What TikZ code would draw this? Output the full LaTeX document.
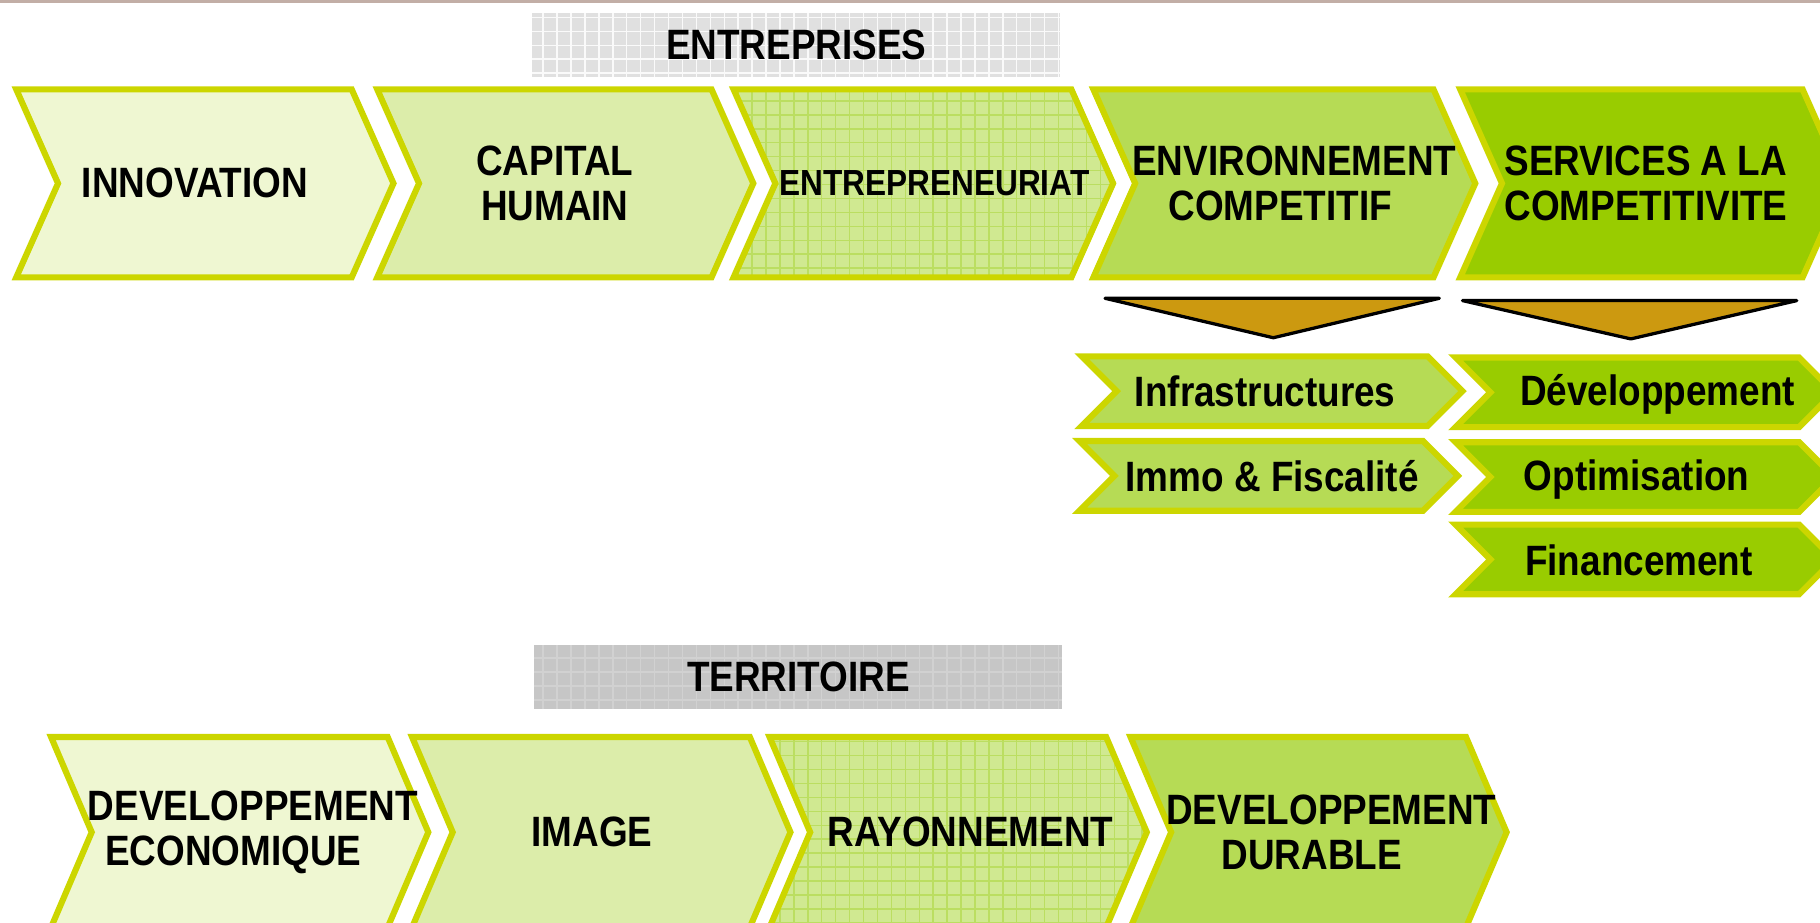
\documentclass[tikz,border=0pt]{standalone}
\usepackage{fontspec}
\setmainfont{Liberation Sans}[FakeStretch=0.87]

\definecolor{rim}{HTML}{CCD600}
\definecolor{pale}{HTML}{EFF7D2}
\definecolor{soft}{HTML}{DCEDAA}
\definecolor{mid}{HTML}{D0E991}
\definecolor{deep}{HTML}{B6DB55}
\definecolor{full}{HTML}{99CC00}
\definecolor{arrowgold}{HTML}{CC9910}
\definecolor{headgray}{HTML}{E0E0E0}
\definecolor{darkgray}{HTML}{C6C6C6}
\definecolor{topline}{HTML}{C2AEA6}

\begin{document}
\begin{tikzpicture}[
    chev/.style={draw=rim, line width=1.5pt, line join=miter},
    texgrid/.style={path picture={\draw[#1, line width=0.35pt] (path picture bounding box.south west) grid[step=0.12] (path picture bounding box.north east);}},
    lab/.style={font=\bfseries\fontsize{10.4}{10.9}\selectfont, align=center, inner sep=0pt},
    smalllab/.style={font=\bfseries\fontsize{8.9}{9.4}\selectfont, inner sep=0pt},
    head/.style={font=\bfseries\fontsize{10.4}{10.9}\selectfont, inner sep=0pt},
    drop/.style={fill=arrowgold, draw=black, line width=0.8pt, line join=round}
  ]
    \path[use as bounding box] (0,0) rectangle (15.68,7.95);
    \clip (0,0) rectangle (15.68,7.95);

    \fill [topline] (0,7.92) rectangle (15.68,7.95);

    % headers
    \fill [headgray, texgrid=white!85!headgray] (4.58,7.29) rectangle (9.13,7.84);
    \node (entreprises-label) at (6.86,7.565) [head] {ENTREPRISES};

    \fill [darkgray, texgrid=darkgray!80!white] (4.60,1.84) rectangle (9.15,2.39);
    \node (territoire-label) at (6.88,2.115) [head] {TERRITOIRE};

    % top row
    \filldraw [chev, fill=pale] (0.14,7.18) -- (3.03,7.18) -- (3.39,6.37) -- (3.03,5.56) -- (0.14,5.56) -- (0.50,6.37) -- cycle;
    \filldraw [chev, fill=soft] (3.25,7.18) -- (6.13,7.18) -- (6.49,6.37) -- (6.13,5.56) -- (3.25,5.56) -- (3.61,6.37) -- cycle;
    \filldraw [chev, fill=mid, texgrid=deep!80!mid] (6.32,7.18) -- (9.23,7.18) -- (9.59,6.37) -- (9.23,5.56) -- (6.32,5.56) -- (6.68,6.37) -- cycle;
    \filldraw [chev, fill=deep] (9.42,7.18) -- (12.35,7.18) -- (12.71,6.37) -- (12.35,5.56) -- (9.42,5.56) -- (9.78,6.37) -- cycle;
    \filldraw [chev, fill=full] (12.58,7.18) -- (15.53,7.18) -- (15.89,6.37) -- (15.53,5.56) -- (12.58,5.56) -- (12.94,6.37) -- cycle;

    \node (innovation) at (1.68,6.37) [lab] {INNOVATION};
    \node (capital) at (4.78,6.37) [lab] {CAPITAL\\HUMAIN};
    \node (entrepreneuriat) at (8.05,6.37) [smalllab] {ENTREPRENEURIAT};
    \node (environnement) at (11.15,6.37) [lab] {ENVIRONNEMENT\\COMPETITIF\hspace*{0.24cm}};
    \node (services) at (14.18,6.37) [lab] {SERVICES A LA\\COMPETITIVITE};

    % down arrows
    \filldraw [drop] (9.52,5.38) -- (12.40,5.38) -- (10.97,5.04) -- cycle;
    \filldraw [drop] (12.60,5.36) -- (15.48,5.36) -- (14.05,5.03) -- cycle;

    % sub items
    \filldraw [chev, fill=deep] (9.32,4.88) -- (12.30,4.88) -- (12.60,4.58) -- (12.30,4.28) -- (9.32,4.28) -- (9.62,4.58) -- cycle;
    \filldraw [chev, fill=deep] (9.30,4.15) -- (12.26,4.15) -- (12.56,3.85) -- (12.26,3.55) -- (9.30,3.55) -- (9.60,3.85) -- cycle;

    \filldraw [chev, fill=full] (12.54,4.87) -- (15.50,4.87) -- (15.80,4.57) -- (15.50,4.27) -- (12.54,4.27) -- (12.84,4.57) -- cycle;
    \filldraw [chev, fill=full] (12.54,4.14) -- (15.50,4.14) -- (15.80,3.84) -- (15.50,3.54) -- (12.54,3.54) -- (12.84,3.84) -- cycle;
    \filldraw [chev, fill=full] (12.54,3.43) -- (15.50,3.43) -- (15.80,3.13) -- (15.50,2.83) -- (12.54,2.83) -- (12.84,3.13) -- cycle;

    \node (infrastructures) at (10.90,4.58) [lab] {Infrastructures};
    \node (immo) at (10.96,3.85) [lab] {Immo \& Fiscalité};
    \node (developpement) at (14.28,4.55) [lab] {Développement};
    \node (optimisation) at (14.10,3.82) [lab] {Optimisation};
    \node (financement) at (14.12,3.12) [lab] {Financement};

    % bottom row
    \filldraw [chev, fill=pale] (0.44,1.60) -- (3.34,1.60) -- (3.69,0.78) -- (3.34,-0.04) -- (0.44,-0.04) -- (0.79,0.78) -- cycle;
    \filldraw [chev, fill=soft] (3.55,1.60) -- (6.46,1.60) -- (6.81,0.78) -- (6.46,-0.04) -- (3.55,-0.04) -- (3.90,0.78) -- cycle;
    \filldraw [chev, fill=mid, texgrid=deep!80!mid] (6.63,1.60) -- (9.53,1.60) -- (9.88,0.78) -- (9.53,-0.04) -- (6.63,-0.04) -- (6.98,0.78) -- cycle;
    \filldraw [chev, fill=deep] (9.74,1.60) -- (12.63,1.60) -- (12.98,0.78) -- (12.63,-0.04) -- (9.74,-0.04) -- (10.09,0.78) -- cycle;

    \node (eco) at (2.18,0.78) [lab] {DEVELOPPEMENT\\ECONOMIQUE\hspace*{0.34cm}};
    \node (image) at (5.10,0.78) [lab] {IMAGE};
    \node (rayonnement) at (8.36,0.78) [lab] {RAYONNEMENT};
    \node (durable) at (11.47,0.78) [lab] {DEVELOPPEMENT\\DURABLE\hspace*{0.34cm}};
  \end{tikzpicture}
\end{document}
